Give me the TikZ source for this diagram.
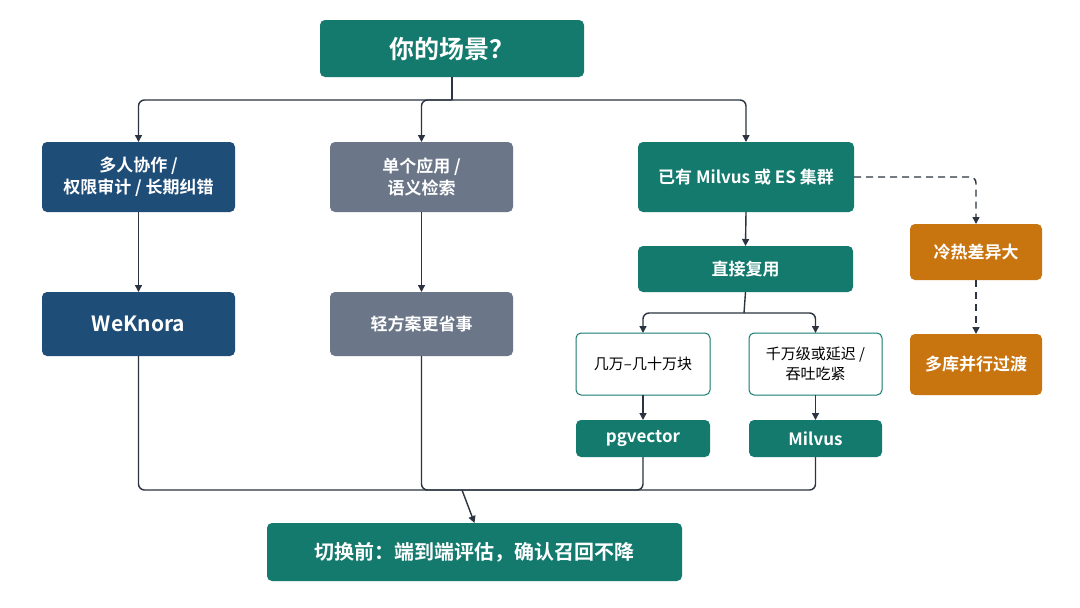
\documentclass[tikz,border=0pt]{standalone}
\usepackage{fontspec}
\setmainfont{Noto Sans CJK SC}[BoldFont={Noto Sans CJK SC Bold}]
\usetikzlibrary{arrows.meta}
\definecolor{teal1}{HTML}{147A6E}
\definecolor{navy1}{HTML}{1E4D78}
\definecolor{grey1}{HTML}{6B7789}
\definecolor{orng}{HTML}{C8740F}
\definecolor{line1}{HTML}{2B3440}
\begin{document}
\begin{tikzpicture}[x=1pt,y=-1pt,
  box/.style={rounded corners=5pt,text=white,font=\bfseries\fontsize{17}{22}\selectfont,align=center},
  wbox/.style={rounded corners=5pt,fill=white,text=black,font=\fontsize{15}{20}\selectfont,align=center},
  conn/.style={line width=1.4pt,draw=line1,rounded corners=6pt},
  arr/.style={conn,-{Triangle[length=7pt,width=7pt]}},
  dsh/.style={arr,dash pattern=on 7pt off 5pt}]
\useasboundingbox (0,0) rectangle (1080,608);
\fill[white] (0,0) rectangle (1080,608);
\newcommand\bx[7]{\fill[#6,rounded corners=5pt] (#2,#3) rectangle (#4,#5);
  \node[box] (#1) at ({(#2+#4)/2},{(#3+#5)/2}) {#7};
  \coordinate (#1n) at ({(#2+#4)/2},#3); \coordinate (#1s) at ({(#2+#4)/2},#5);}
\newcommand\wb[6]{\draw[teal1,line width=1pt,rounded corners=5pt,fill=white] (#2,#3) rectangle (#4,#5);
  \node[wbox] (#1) at ({(#2+#4)/2},{(#3+#5)/2}) {#6};
  \coordinate (#1n) at ({(#2+#4)/2},#3); \coordinate (#1s) at ({(#2+#4)/2},#5);}
\bx{top}{320}{20}{584}{77}{teal1}{\fontsize{25}{30}\selectfont 你的场景？}
\bx{A}{42}{142}{235}{212}{navy1}{多人协作 /\\权限审计 / 长期纠错}
\bx{B}{330}{142}{513}{212}{grey1}{单个应用 /\\语义检索}
\bx{C}{638}{142}{854}{212}{teal1}{已有 Milvus 或 ES 集群}
\bx{D}{910}{224}{1042}{280}{orng}{冷热差异大}
\bx{E}{910}{334}{1042}{395}{orng}{多库并行过渡}
\bx{F}{42}{292}{235}{356}{navy1}{\fontsize{21}{26}\selectfont WeKnora}
\bx{G}{330}{292}{513}{356}{grey1}{轻方案更省事}
\bx{H}{638}{246}{853}{292}{teal1}{直接复用}
\wb{I}{576}{333}{710}{395}{几万–几十万块}
\wb{J}{749}{333}{882}{395}{千万级或延迟 /\\吞吐吃紧}
\bx{K}{576}{420}{710}{457}{teal1}{pgvector}
\bx{L}{749}{420}{882}{457}{teal1}{Milvus}
\bx{M}{267}{523}{682}{581}{teal1}{\fontsize{20}{24}\selectfont 切换前：端到端评估，确认召回不降}
\coordinate (sp) at (452,100);
\draw[conn] (tops) -- (sp);
\draw[arr] (sp) -| (An);
\draw[arr] (sp) -| (Bn);
\draw[arr] (sp) -| (Cn);
\draw[arr] (As) -- (Fn);
\draw[arr] (Bs) -- (Gn);
\draw[arr] (Cs) -- (Hn);
\coordinate (hs) at (744,313);
\draw[conn] (Hs) -- (hs);
\draw[arr] (hs) -| (In);
\draw[arr] (hs) -| (Jn);
\draw[arr] (Is) -- (Kn);
\draw[arr] (Js) -- (Ln);
\coordinate (jn) at (462,490);
\draw[conn] (Fs) |- (jn);
\draw[conn] (Gs) |- (jn);
\draw[conn] (Ks) |- (jn);
\draw[conn] (Ls) |- (jn);
\draw[arr] (jn) -- (Mn);
\coordinate (Ce) at (854,177);
\draw[dsh] (Ce) -| (Dn);
\draw[dsh] (Ds) -- (En);
\end{tikzpicture}
\end{document}
